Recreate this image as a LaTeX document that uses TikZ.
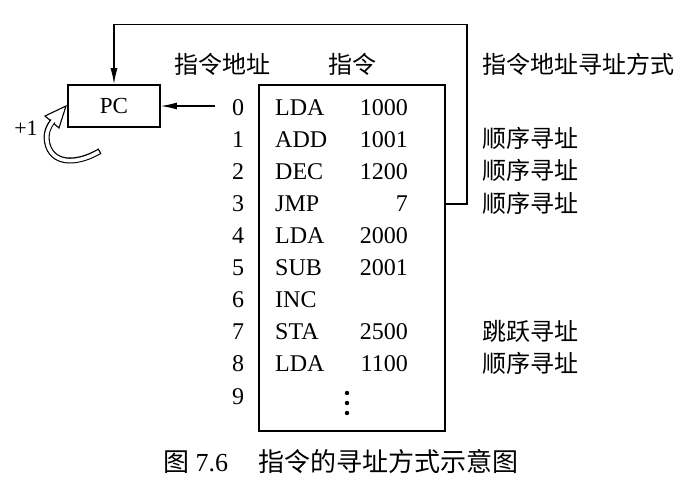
\documentclass[tikz,border=0pt]{standalone}
\usepackage{fontspec}
\setmainfont{Liberation Serif}
\newfontfamily\cjk{Noto Sans CJK SC}
\usetikzlibrary{arrows.meta}
\begin{document}
\begin{tikzpicture}[x=1pt,y=-1pt,
  lbl/.style={inner sep=0pt, font=\fontsize{24}{28}\selectfont},
  zh/.style={inner sep=0pt, font=\cjk\fontsize{24}{28}\selectfont},
  box/.style={draw, line width=1.8pt, inner sep=0pt},
  wire/.style={line width=1.1pt},
  tip/.style={-{Latex[length=16pt,width=7pt]}}]
\useasboundingbox (0,0) rectangle (687,490);

% program counter and instruction memory
\node[box, minimum width=92pt, minimum height=42pt] (pc) at (114,106)
  {\fontsize{23}{28}\selectfont PC};
\node[box, minimum width=186pt, minimum height=346pt] (mem) at (352,258) {};

% column headings
\node[zh] (hAddr) at (222,64) {指令地址};
\node[zh] (hIns) at (352,64) {指令};
\node[zh, anchor=west] (hMode) at (482,64) {指令地址寻址方式};

% memory rows: address, opcode, operand
\foreach \i/\op/\v in {0/LDA/1000,1/ADD/1001,2/DEC/1200,3/JMP/7,4/LDA/2000,
                       5/SUB/2001,6/INC/,7/STA/2500,8/LDA/1100}{
  \pgfmathsetmacro\yb{115+32.1*\i}
  \node[lbl, anchor=base] (a\i) at (238,\yb) {\i};
  \node[lbl, anchor=base west] (op\i) at (275,\yb) {\op};
  \node[lbl, anchor=base east] (v\i) at (408,\yb) {\v};
}
\node[lbl, anchor=base] (a9) at (238,404) {9};
\foreach \y in {393,403,413} \fill (347,\y) circle (2.2pt);

% addressing mode of each row
\node[zh, anchor=west] (m1) at (482,138) {顺序寻址};
\node[zh, anchor=west] (m2) at (482,170) {顺序寻址};
\node[zh, anchor=west] (m3) at (482,203) {顺序寻址};
\node[zh, anchor=west] (m7) at (482,331) {跳跃寻址};
\node[zh, anchor=west] (m8) at (482,363) {顺序寻址};

% address fed into PC, and the jump path back to PC
\coordinate (feed) at (215,106);
\draw[wire,tip] (feed) -- (pc.east);
\coordinate (jmp) at (445,204);
\draw[wire,tip] (jmp) -- ++(22,0) |- ([yshift=60pt]pc.north) -- (pc.north);

% increment arrow
\node[lbl, font=\fontsize{22}{26}\selectfont] (inc) at (26,128) {+1};
\fill[white, draw=black, line width=1.1pt] (66,106) -- (45,116) -- (59,128) -- cycle;
\draw[line width=6pt] (100,151) .. controls (80,163) and (55,166) .. (48,146)
  .. controls (45,136) and (47,128) .. (53,121);
\draw[white, line width=3.6pt, shorten <=1.3pt, shorten >=-2pt]
  (100,151) .. controls (80,163) and (55,166) .. (48,146)
  .. controls (45,136) and (47,128) .. (53,121);

% caption
\node[anchor=west, inner sep=0pt, font=\fontsize{26}{30}\selectfont] (cap1)
  at (163,462) {{\cjk 图} 7.6};
\node[zh, anchor=west, font=\cjk\fontsize{26}{30}\selectfont] (cap2)
  at (258,462) {指令的寻址方式示意图};
\end{tikzpicture}
\end{document}
